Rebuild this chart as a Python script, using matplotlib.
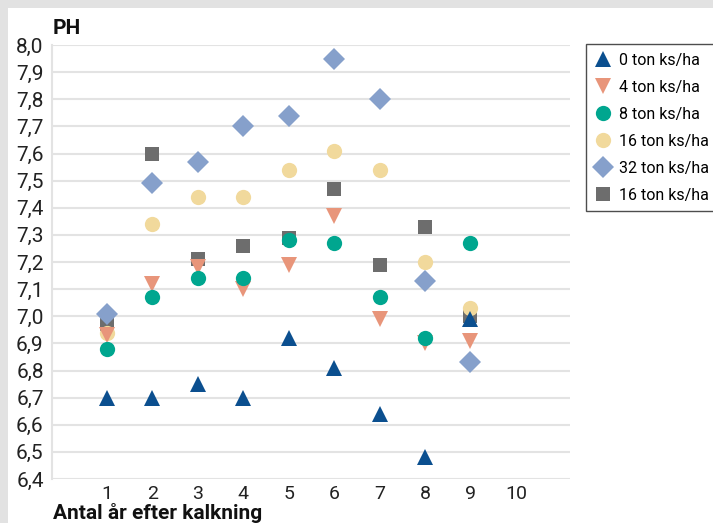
import matplotlib
matplotlib.use("Agg")
import matplotlib.pyplot as plt
from matplotlib.patches import Rectangle

years = [1, 2, 3, 4, 5, 6, 7, 8, 9]
ph_0 = [6.70, 6.70, 6.75, 6.70, 6.92, 6.81, 6.64, 6.48, 6.99]
ph_4 = [6.93, 7.12, 7.18, 7.10, 7.19, 7.37, 6.99, 6.90, 6.91]
ph_8 = [6.88, 7.07, 7.14, 7.14, 7.28, 7.27, 7.07, 6.92, 7.27]
ph_16 = [6.94, 7.34, 7.44, 7.44, 7.54, 7.61, 7.54, 7.20, 7.03]
ph_32 = [7.01, 7.49, 7.57, 7.70, 7.74, 7.95, 7.80, 7.13, 6.83]
ph_16b = [6.97, 7.60, 7.21, 7.26, 7.29, 7.47, 7.19, 7.33, 7.00]
labels = ["0 ton ks/ha", "4 ton ks/ha", "8 ton ks/ha", "16 ton ks/ha", "32 ton ks/ha", "16 ton ks/ha"]

xticks = [1, 2, 3, 4, 5, 6, 7, 8, 9, 10]
xtick_labels = ["1", "2", "3", "4", "5", "6", "7", "8", "9", "10"]
yticks = [6.4, 6.5, 6.6, 6.7, 6.8, 6.9, 7.0, 7.1, 7.2, 7.3, 7.4, 7.5, 7.6, 7.7, 7.8, 7.9, 8.0]
ytick_labels = ["6,4", "6,5", "6,6", "6,7", "6,8", "6,9", "7,0", "7,1", "7,2", "7,3",
                "7,4", "7,5", "7,6", "7,7", "7,8", "7,9", "8,0"]

FONT = ["Roboto", "DejaVu Sans"]
W, H = 713, 523
fig = plt.figure(figsize=(W / 100, H / 100), dpi=100, facecolor="#e2e2e2")
fig.patches.append(Rectangle((8 / W, 0), 1, 1 - 8 / H, transform=fig.transFigure,
                             facecolor="white", edgecolor="none", zorder=-10))

ax = fig.add_axes([52 / W, 1 - 479 / H, (570 - 52) / W, (479 - 45) / H])
ax.set_facecolor("none")
ax.set_zorder(1)

series = [
    (ph_0, "^", "#0b4f8f", 11, 6),
    (ph_4, "v", "#e8957a", 11, 3),
    (ph_8, "o", "#00a68f", 11, 4),
    (ph_16, "o", "#f1d99c", 11, 2),
    (ph_32, "D", "#86a0cb", 11, 5),
    (ph_16b, "s", "#6d6d6d", 10.5, 1),
]
handles = []
for (vals, m, c, ms, z), lab in zip(series, labels):
    h, = ax.plot(years, vals, linestyle="none", marker=m, color=c, markersize=ms,
                 markeredgewidth=0, label=lab, zorder=z + 2)
    handles.append(h)

ax.set_xlim(-0.21, 11.19)
ax.set_ylim(6.4, 8.0)
ax.set_yticks(yticks)
ax.set_yticklabels(ytick_labels, family=FONT, fontsize=15, color="#222222")
ax.set_xticks(xticks)
ax.set_xticklabels(xtick_labels, family=FONT, fontsize=14, color="#222222")
ax.tick_params(axis="both", length=0)
ax.tick_params(axis="y", pad=6)
ax.tick_params(axis="x", pad=4)
ax.yaxis.grid(True, color="#e3e3e3", linewidth=1.5, zorder=0)
ax.set_axisbelow(True)
for s in ["top", "right", "bottom"]:
    ax.spines[s].set_visible(False)
ax.spines["left"].set_color("#e3e3e3")
ax.spines["left"].set_linewidth(1.5)

fig.text(53 / W, 1 - 28 / H, "PH", family=FONT, fontsize=15, fontweight="bold",
         ha="left", va="center", color="#111111")
fig.text(53 / W, 1 - 513 / H, "Antal år efter kalkning", family=FONT, fontsize=15,
         fontweight="bold", ha="left", va="center", color="#111111")

leg = fig.legend(handles=handles, loc="upper left", bbox_to_anchor=(586 / W, 1 - 44 / H),
                 prop={"family": FONT, "size": 11.5}, frameon=True, fancybox=False,
                 borderpad=0.55, labelspacing=0.75, handlelength=1.0, handletextpad=0.5,
                 borderaxespad=0)
leg.get_frame().set_edgecolor("#222222")
leg.get_frame().set_linewidth(1.0)

fig.savefig("out.png", dpi=100, facecolor=fig.get_facecolor())
